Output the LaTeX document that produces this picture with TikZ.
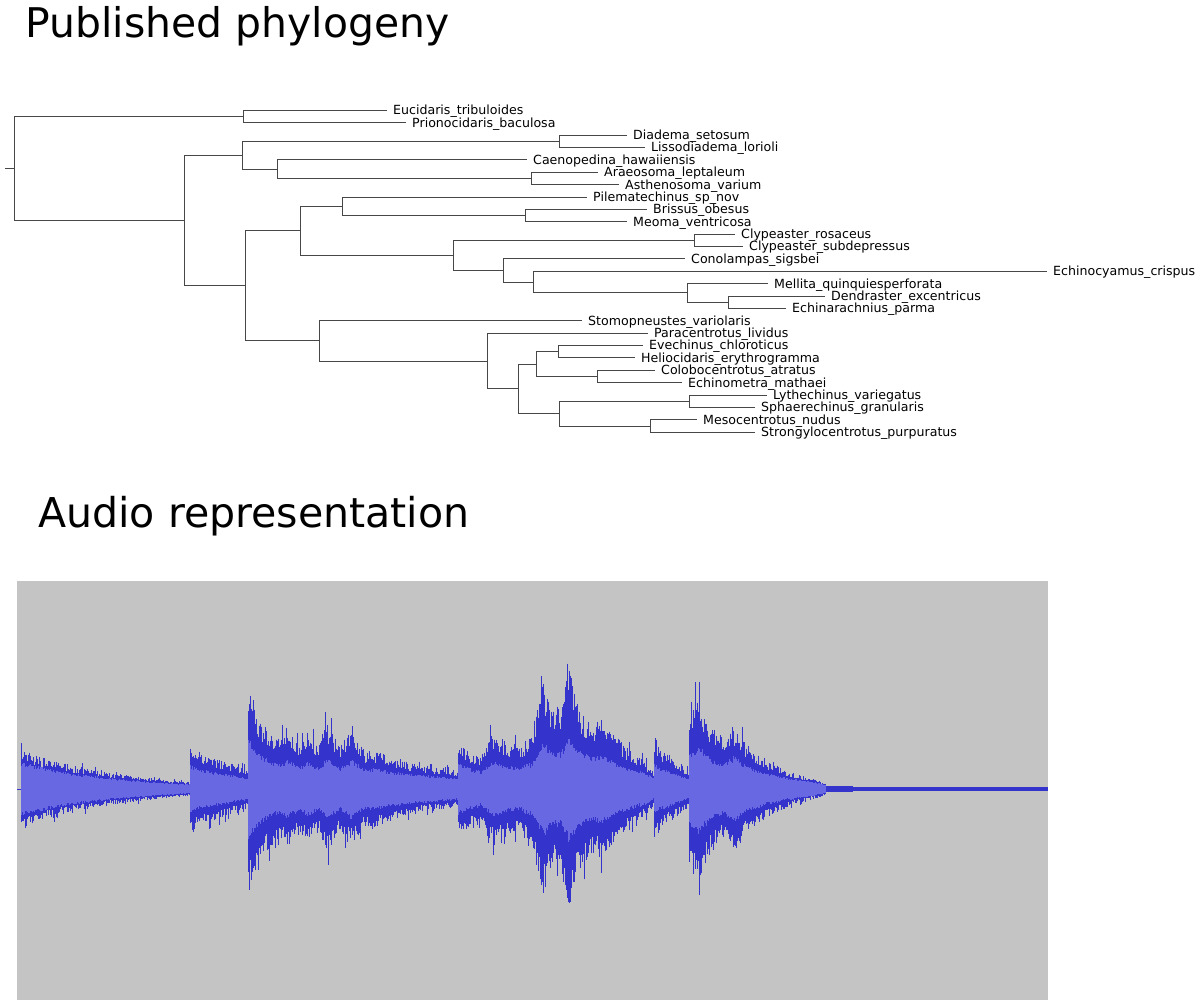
\documentclass[tikz,border=0pt]{standalone}
\usepackage{fontspec}
\setmainfont{DejaVu Sans}
\definecolor{wdark}{RGB}{52,52,204}
\definecolor{wlight}{RGB}{104,104,226}
\definecolor{wbg}{RGB}{196,196,196}
\begin{document}
\begin{tikzpicture}[x=1pt,y=-1pt,
  br/.style={draw=black!72, line width=0.9pt},
  lab/.style={anchor=base west, inner sep=0pt, xshift=6pt, yshift=-4.4pt, font=\fontsize{12.6}{14}\selectfont},
  ttl/.style={anchor=base west, inner sep=0pt, font=\fontsize{40.9}{48}\selectfont}]
\useasboundingbox (0,0) rectangle (1200,1005);

% titles
\node[ttl] (t1) at (25.5,37) {Published phylogeny};
\node[ttl, font=\fontsize{41.1}{48}\selectfont] (t2) at (38,527) {Audio representation};

% leaves
\coordinate (l1) at (387,110.3);
\coordinate (l2) at (406,122.7);
\coordinate (l3) at (627,135.1);
\coordinate (l4) at (645,147.4);
\coordinate (l5) at (527,159.8);
\coordinate (l6) at (598,172.2);
\coordinate (l7) at (619,184.6);
\coordinate (l8) at (587,197.0);
\coordinate (l9) at (647,209.3);
\coordinate (l10) at (627,221.7);
\coordinate (l11) at (735,234.1);
\coordinate (l12) at (743,246.5);
\coordinate (l13) at (685,258.9);
\coordinate (l14) at (1047,271.2);
\coordinate (l15) at (768,283.6);
\coordinate (l16) at (825,296.0);
\coordinate (l17) at (786,308.4);
\coordinate (l18) at (582,320.8);
\coordinate (l19) at (648,333.1);
\coordinate (l20) at (643,345.5);
\coordinate (l21) at (635,357.9);
\coordinate (l22) at (655,370.3);
\coordinate (l23) at (682,382.7);
\coordinate (l24) at (767,395.0);
\coordinate (l25) at (755,407.4);
\coordinate (l26) at (697,419.8);
\coordinate (l27) at (755,432.2);

% internal nodes
\coordinate (r0) at (5,168.5);
\coordinate (nRoot) at (14,168.5);
\coordinate (nA) at (243,116.5);
\coordinate (nB) at (184,220.5);
\coordinate (nC) at (242,155.2);
\coordinate (nD) at (559,141.3);
\coordinate (nE) at (277,169.1);
\coordinate (nF) at (531,178.4);
\coordinate (nG) at (245,285.9);
\coordinate (nH) at (300,230.8);
\coordinate (nI) at (342,206.3);
\coordinate (nJ) at (525,215.5);
\coordinate (nK) at (453,255.4);
\coordinate (nL) at (694,240.3);
\coordinate (nM) at (503,270.5);
\coordinate (nN) at (533,282.05);
\coordinate (nO) at (687,292.9);
\coordinate (nP) at (728,302.2);
\coordinate (nQ) at (319,340.9);
\coordinate (nR) at (487,361.0);
\coordinate (nS) at (518,388.9);
\coordinate (nT) at (536,364.1);
\coordinate (nU) at (558,351.7);
\coordinate (nV) at (597,376.5);
\coordinate (nW) at (559,413.6);
\coordinate (nX) at (689,401.2);
\coordinate (nY) at (650,426.0);

\draw[br] (r0) -- (nRoot);
\foreach \p/\c in {nRoot/nA,nRoot/nB,nA/l1,nA/l2,nB/nC,nB/nG,nC/nD,nC/nE,nD/l3,nD/l4,
  nE/l5,nE/nF,nF/l6,nF/l7,nG/nH,nG/nQ,nH/nI,nH/nK,nI/l8,nI/nJ,nJ/l9,nJ/l10,
  nK/nL,nK/nM,nL/l11,nL/l12,nM/l13,nM/nN,nN/l14,nN/nO,nO/l15,nO/nP,nP/l16,nP/l17,
  nQ/l18,nQ/nR,nR/l19,nR/nS,nS/nT,nS/nW,nT/nU,nT/nV,nU/l20,nU/l21,nV/l22,nV/l23,
  nW/nX,nW/nY,nX/l24,nX/l25,nY/l26,nY/l27}
  \draw[br] (\p) |- (\c);

% labels
\node[lab] (s1) at (l1) {Eucidaris\_tribuloides};
\node[lab] (s2) at (l2) {Prionocidaris\_baculosa};
\node[lab] (s3) at (l3) {Diadema\_setosum};
\node[lab] (s4) at (l4) {Lissodiadema\_lorioli};
\node[lab] (s5) at (l5) {Caenopedina\_hawaiiensis};
\node[lab] (s6) at (l6) {Araeosoma\_leptaleum};
\node[lab] (s7) at (l7) {Asthenosoma\_varium};
\node[lab] (s8) at (l8) {Pilematechinus\_sp\_nov};
\node[lab] (s9) at (l9) {Brissus\_obesus};
\node[lab] (s10) at (l10) {Meoma\_ventricosa};
\node[lab] (s11) at (l11) {Clypeaster\_rosaceus};
\node[lab] (s12) at (l12) {Clypeaster\_subdepressus};
\node[lab] (s13) at (l13) {Conolampas\_sigsbei};
\node[lab] (s14) at (l14) {Echinocyamus\_crispus};
\node[lab] (s15) at (l15) {Mellita\_quinquiesperforata};
\node[lab] (s16) at (l16) {Dendraster\_excentricus};
\node[lab] (s17) at (l17) {Echinarachnius\_parma};
\node[lab] (s18) at (l18) {Stomopneustes\_variolaris};
\node[lab] (s19) at (l19) {Paracentrotus\_lividus};
\node[lab] (s20) at (l20) {Evechinus\_chloroticus};
\node[lab] (s21) at (l21) {Heliocidaris\_erythrogramma};
\node[lab] (s22) at (l22) {Colobocentrotus\_atratus};
\node[lab] (s23) at (l23) {Echinometra\_mathaei};
\node[lab] (s24) at (l24) {Lythechinus\_variegatus};
\node[lab] (s25) at (l25) {Sphaerechinus\_granularis};
\node[lab] (s26) at (l26) {Mesocentrotus\_nudus};
\node[lab] (s27) at (l27) {Strongylocentrotus\_purpuratus};

% audio panel
\fill[wbg] (17,581) rectangle (1048,1000);
\draw[wdark, line width=1pt] (17,789) -- (21,789);
\pgfmathsetseed{11}
\foreach \wxa/\wya/\wxb/\wyb/\wf in {
21/42/24/40/0.6, 24/40/40/33/0.62, 40/33/70/24/0.62, 70/24/110/16/0.62, 110/16/150/11/0.62, 150/11/190/7/0.6,
190/44/200/36/0.5, 200/36/225/28/0.5, 225/28/248/20/0.5,
248/105/252/92/0.45, 252/92/258/74/0.45, 258/74/270/58/0.45, 270/58/280/50/0.45, 280/50/287/60/0.45,
287/60/300/44/0.45, 300/44/307/56/0.45, 307/56/318/44/0.45, 318/44/326/66/0.42, 326/66/340/44/0.45,
340/44/350/58/0.45, 350/58/365/38/0.48, 365/38/376/38/0.5, 376/38/395/30/0.5, 395/30/420/24/0.52, 420/24/458/18/0.55,
458/48/470/38/0.5, 470/38/480/34/0.5, 480/34/493/58/0.45, 493/58/505/48/0.45, 505/48/520/44/0.45,
520/44/530/56/0.45, 530/56/543/108/0.4, 543/108/552/78/0.42, 552/78/560/86/0.42, 560/86/568/125/0.38,
568/125/578/82/0.42, 578/82/590/66/0.45, 590/66/603/70/0.45, 603/70/620/48/0.45, 620/48/640/32/0.48, 640/32/654/18/0.55,
654/54/660/40/0.45, 660/40/689/18/0.5,
689/82/698/92/0.42, 698/92/712/62/0.45, 712/62/722/52/0.45, 722/52/733/65/0.45, 733/65/750/40/0.48,
750/40/770/27/0.5, 770/27/790/17/0.55, 790/17/810/11/0.6, 810/11/826/6/0.65}{
  \pgfmathtruncatemacro{\wn}{\wxb-\wxa-1}
  \foreach \wi in {0,...,\wn}{
    \pgfmathsetmacro{\wx}{\wxa+\wi+0.5}
    \pgfmathsetmacro{\wamp}{\wya+(\wyb-\wya)*\wi/(\wxb-\wxa)}
    \pgfmathsetmacro{\wyu}{789-\wamp*(0.68+0.32*rnd)*(1+0.22*(rnd>0.9))}
    \pgfmathsetmacro{\wyd}{789+\wamp*(0.68+0.32*rnd)*(1+0.22*(rnd>0.9))}
    \pgfmathsetmacro{\wiu}{789-\wamp*\wf*(0.9+0.2*rnd)}
    \pgfmathsetmacro{\wid}{789+\wamp*\wf*(0.9+0.2*rnd)}
    \draw[wdark, line width=1.3pt] (\wx,\wyu) -- (\wx,\wyd);
    \draw[wlight, line width=1.3pt] (\wx,\wiu) -- (\wx,\wid);
  }
}
\fill[wdark] (826,786) rectangle (853,792);
\fill[wdark] (853,787.4) rectangle (1048,790.6);
\end{tikzpicture}
\end{document}
